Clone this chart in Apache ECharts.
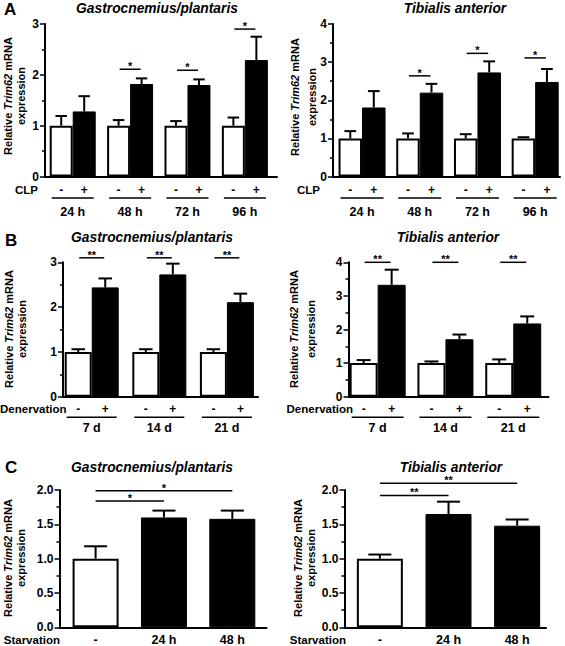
<!DOCTYPE html>
<html><head><meta charset="utf-8">
<script src="https://cdn.jsdelivr.net/npm/echarts@6/dist/echarts.min.js"></script>
<style>html,body{margin:0;padding:0;background:#fff}#c{width:565px;height:646px}</style>
</head><body><div id="c"></div><script>
// ---------- DATA ----------
// Panel A: CLP (sepsis)
const clpTimes = ['24 h', '48 h', '72 h', '96 h'];
const clpLevels = ['-', '+'];
const gpClpCtrl = [1.00, 1.00, 1.00, 1.00];
const gpClpCtrlSem = [0.19, 0.11, 0.09, 0.16];
const gpClpTreat = [1.28, 1.82, 1.80, 2.29];
const gpClpTreatSem = [0.30, 0.11, 0.11, 0.46];
const gpClpSig = ['', '*', '*', '*'];
const gpClpSigY = [null, 2.11, 2.09, 2.90];

const taClpCtrl = [1.00, 1.00, 1.00, 1.00];
const taClpCtrlSem = [0.19, 0.13, 0.11, 0.03];
const taClpTreat = [1.81, 2.20, 2.73, 2.48];
const taClpTreatSem = [0.43, 0.23, 0.29, 0.34];
const taClpSig = ['', '*', '*', '*'];
const taClpSigY = [null, 2.64, 3.23, 3.11];

// Panel B: denervation
const denTimes = ['7 d', '14 d', '21 d'];
const denLevels = ['-', '+'];
const gpDenCtrl = [1.00, 1.00, 1.00];
const gpDenCtrlSem = [0.06, 0.06, 0.06];
const gpDenTreat = [2.44, 2.73, 2.11];
const gpDenTreatSem = [0.20, 0.24, 0.19];
const gpDenSig = ['**', '**', '**'];
const gpDenSigY = [3.10, 3.10, 3.10];

const taDenCtrl = [1.00, 1.00, 1.00];
const taDenCtrlSem = [0.09, 0.05, 0.11];
const taDenTreat = [3.33, 1.71, 2.18];
const taDenTreatSem = [0.45, 0.14, 0.21];
const taDenSig = ['**', '**', '**'];
const taDenSigY = [4.00, 4.00, 4.00];

// Panel C: starvation
const starvGroups = ['-', '24 h', '48 h'];
const starvIsTreated = [false, true, true];
const gpStarv = [1.00, 1.60, 1.58];
const gpStarvSem = [0.18, 0.10, 0.12];
const gpStarvSigFrom = [0, 0];
const gpStarvSigTo = [1, 2];
const gpStarvSigY = [1.84, 1.99];
const gpStarvSigTxt = ['*', '*'];

const taStarv = [1.00, 1.65, 1.48];
const taStarvSem = [0.06, 0.18, 0.09];
const taStarvSigFrom = [0, 0];
const taStarvSigTo = [1, 2];
const taStarvSigY = [1.92, 2.10];
const taStarvSigTxt = ['**', '**'];

const titles = ['Gastrocnemius/plantaris', 'Tibialis anterior'];
const yNameLine1 = 'Relative {i|Trim62} mRNA';
const yNameLine2 = 'expression';

// ---------- STYLE / LAYOUT ----------
const FONT = '"Liberation Sans", Arial, Helvetica, sans-serif';
const boldFont = (s) => 'bold ' + s + 'px ' + FONT;

const layouts = [
  {left: 45,    top: 24,    width: 232,   height: 152.5, xmin: -0.483, xmax: 3.56, ymax: 3, yint: 1,   dec: 0, bw: 23,   nameX: [8.3, 21.3],   nameY: 96,  d: [13.5, 21.5, 35.5]},
  {left: 333,   top: 24,    width: 227,   height: 152.5, xmin: -0.503, xmax: 3.43, ymax: 4, yint: 1,   dec: 0, bw: 23.5, nameX: [294.7, 311.5], nameY: 97,  d: [13.5, 21.5, 35.5]},
  {left: 63,    top: 262.3, width: 195,   height: 134.4, xmin: -0.425, xmax: 2.46, ymax: 3, yint: 1,   dec: 0, bw: 27,   nameX: [8.8, 21.5],   nameY: 329, d: [12.5, 20.5, 31]},
  {left: 348.5, top: 262.3, width: 200,   height: 134.4, xmin: -0.43,  xmax: 2.52, ymax: 4, yint: 1,   dec: 0, bw: 28,   nameX: [294, 311],    nameY: 329, d: [12.5, 20.5, 31]},
  {left: 59.5,  top: 490,   width: 207,   height: 137.3, xmin: -0.528, xmax: 2.5,  ymax: 2, yint: 0.5, dec: 1, bw: 46,   nameX: [8.3, 21.3],   nameY: 558, d: [13]},
  {left: 344.5, top: 490,   width: 201.5, height: 137.3, xmin: -0.515, xmax: 2.42, ymax: 2, yint: 0.5, dec: 1, bw: 46,   nameX: [297.5, 311],  nameY: 558, d: [13]}
];

const pairedPanels = [
  {groups: clpTimes, levels: clpLevels, ctrl: gpClpCtrl, ctrlSem: gpClpCtrlSem, treat: gpClpTreat, treatSem: gpClpTreatSem, sig: gpClpSig, sigY: gpClpSigY},
  {groups: clpTimes, levels: clpLevels, ctrl: taClpCtrl, ctrlSem: taClpCtrlSem, treat: taClpTreat, treatSem: taClpTreatSem, sig: taClpSig, sigY: taClpSigY},
  {groups: denTimes, levels: denLevels, ctrl: gpDenCtrl, ctrlSem: gpDenCtrlSem, treat: gpDenTreat, treatSem: gpDenTreatSem, sig: gpDenSig, sigY: gpDenSigY},
  {groups: denTimes, levels: denLevels, ctrl: taDenCtrl, ctrlSem: taDenCtrlSem, treat: taDenTreat, treatSem: taDenTreatSem, sig: taDenSig, sigY: taDenSigY}
];
const singlePanels = [
  {groups: starvGroups, treated: starvIsTreated, vals: gpStarv, sem: gpStarvSem, sigFrom: gpStarvSigFrom, sigTo: gpStarvSigTo, sigY: gpStarvSigY, sigTxt: gpStarvSigTxt},
  {groups: starvGroups, treated: starvIsTreated, vals: taStarv, sem: taStarvSem, sigFrom: taStarvSigFrom, sigTo: taStarvSigTo, sigY: taStarvSigY, sigTxt: taStarvSigTxt}
];

// ---------- BUILD ----------
const grids = [], xAxes = [], yAxes = [], series = [];

function textEl(txt, x, y, align, font) {
  return {type: 'text', style: {text: txt, x: x, y: y, font: font, fill: '#000',
    textAlign: align, textVerticalAlign: 'middle', align: align, verticalAlign: 'middle'}};
}
function lineEl(x1, y1, x2, y2, w) {
  return {type: 'line', shape: {x1: x1, y1: y1, x2: x2, y2: y2}, style: {stroke: '#000', lineWidth: w}};
}

layouts.forEach((L, gi) => {
  grids.push({left: L.left, top: L.top, width: L.width, height: L.height, containLabel: false, outerBoundsMode: 'none'});
  xAxes.push({type: 'value', gridIndex: gi, min: L.xmin, max: L.xmax,
    axisLine: {show: true, onZero: false, lineStyle: {color: '#000', width: 2}},
    axisTick: {show: false}, axisLabel: {show: false}, splitLine: {show: false}});
  yAxes.push({type: 'value', gridIndex: gi, min: 0, max: L.ymax, interval: L.yint,
    axisLine: {show: true, onZero: false, lineStyle: {color: '#000', width: 2}},
    axisTick: {show: true, length: 5, lineStyle: {color: '#000', width: 1.5}},
    minorTick: {show: true, splitNumber: 2, length: 3, lineStyle: {color: '#000', width: 1.5}},
    splitLine: {show: false}, minorSplitLine: {show: false},
    axisLabel: {color: '#000', fontFamily: FONT, fontWeight: 'bold', fontSize: 12, margin: 6,
      formatter: (v) => v.toFixed(L.dec)}
  });
});

function errSeries(gi, bw, sign, means, sems) {
  return {type: 'custom', xAxisIndex: gi, yAxisIndex: gi, silent: true, z: 5, clip: false,
    encode: {x: 0, y: 1},
    data: means.map((m, i) => [i, m, sems[i]]),
    renderItem: function (params, api) {
      const x = api.value(0), m = api.value(1), s = api.value(2);
      const base = api.coord([x, m]);
      const top = api.coord([x, m + s]);
      const cx = base[0] + sign * bw / 2;
      const cap = bw / 4;
      return {type: 'group', children: [
        lineEl(cx, base[1], cx, top[1], 2),
        lineEl(cx - cap, top[1], cx + cap, top[1], 2)
      ]};
    }};
}

pairedPanels.forEach((P, k) => {
  const gi = k, L = layouts[gi], bw = L.bw;
  series.push({type: 'bar', xAxisIndex: gi, yAxisIndex: gi, barWidth: bw, barGap: '0%', silent: true,
    itemStyle: {color: '#fff', borderColor: '#000', borderWidth: 2},
    data: P.ctrl.map((v, i) => [i, v])});
  series.push({type: 'bar', xAxisIndex: gi, yAxisIndex: gi, barWidth: bw, barGap: '0%', silent: true,
    itemStyle: {color: '#000', borderColor: '#000', borderWidth: 1},
    data: P.treat.map((v, i) => [i, v])});
  series.push(errSeries(gi, bw, -1, P.ctrl, P.ctrlSem));
  series.push(errSeries(gi, bw, 1, P.treat, P.treatSem));
  // significance bars
  series.push({type: 'custom', xAxisIndex: gi, yAxisIndex: gi, silent: true, z: 6, clip: false,
    encode: {x: 0, y: 1},
    data: P.sigY.map((y, i) => [i, y == null ? 0 : y]),
    renderItem: function (params, api) {
      const i = params.dataIndex;
      if (!P.sig[i]) return null;
      const p = api.coord([api.value(0), api.value(1)]);
      return {type: 'group', children: [
        lineEl(p[0] - bw / 2 + 1, p[1], p[0] + bw / 2 - 1, p[1], 1.5),
        textEl(P.sig[i], p[0], p[1] - 3, 'center', boldFont(11))
      ]};
    }});
  // x-axis group labels
  series.push({type: 'custom', xAxisIndex: gi, yAxisIndex: gi, silent: true, z: 6, clip: false,
    encode: {x: 0, y: 1},
    data: P.groups.map((g, i) => [i, 0]),
    renderItem: function (params, api) {
      const i = params.dataIndex;
      const p = api.coord([api.value(0), 0]);
      const d = L.d;
      return {type: 'group', children: [
        textEl(P.levels[0], p[0] - bw / 2, p[1] + d[0], 'center', boldFont(12)),
        textEl(P.levels[1], p[0] + bw / 2, p[1] + d[0], 'center', boldFont(12)),
        lineEl(p[0] - bw + 2, p[1] + d[1], p[0] + bw - 2, p[1] + d[1], 1.5),
        textEl(P.groups[i], p[0], p[1] + d[2], 'center', boldFont(12.5))
      ]};
    }});
});

singlePanels.forEach((S, k) => {
  const gi = 4 + k, L = layouts[gi], bw = L.bw;
  series.push({type: 'bar', xAxisIndex: gi, yAxisIndex: gi, barWidth: bw, silent: true,
    data: S.vals.map((v, i) => ({value: [i, v], itemStyle: S.treated[i]
      ? {color: '#000', borderColor: '#000', borderWidth: 1}
      : {color: '#fff', borderColor: '#000', borderWidth: 2}}))});
  series.push(errSeries(gi, bw, 0, S.vals, S.sem));
  series.push({type: 'custom', xAxisIndex: gi, yAxisIndex: gi, silent: true, z: 6, clip: false,
    encode: {x: 0, y: 2},
    data: S.sigY.map((y, j) => [S.sigFrom[j], S.sigTo[j], y]),
    renderItem: function (params, api) {
      const j = params.dataIndex;
      const a = api.coord([api.value(0), api.value(2)]);
      const b = api.coord([api.value(1), api.value(2)]);
      return {type: 'group', children: [
        lineEl(a[0], a[1], b[0], b[1], 1.5),
        textEl(S.sigTxt[j], (a[0] + b[0]) / 2, a[1] - 3, 'center', boldFont(11))
      ]};
    }});
  series.push({type: 'custom', xAxisIndex: gi, yAxisIndex: gi, silent: true, z: 6, clip: false,
    encode: {x: 0, y: 1},
    data: S.groups.map((g, i) => [i, 0]),
    renderItem: function (params, api) {
      const i = params.dataIndex;
      const p = api.coord([api.value(0), 0]);
      return textEl(S.groups[i], p[0], p[1] + L.d[0], 'center', boldFont(12.5));
    }});
});

// titles, panel letters, row labels, y-axis titles
const graphic = [];
function gText(txt, x, y, align, font) {
  graphic.push({type: 'text', x: x, y: y, silent: true,
    style: {text: txt, font: font, fill: '#000', textAlign: align, textVerticalAlign: 'middle', align: align, verticalAlign: 'middle'}});
}
const titleFont = 'italic bold 13.8px ' + FONT;
gText('A', 4, 9, 'left', boldFont(17));
gText('B', 5, 240, 'left', boldFont(17));
gText('C', 5, 467, 'left', boldFont(17));
gText(titles[0], 157, 8, 'center', titleFont);
gText(titles[1], 455, 8, 'center', titleFont);
gText(titles[0], 152, 237, 'center', titleFont);
gText(titles[1], 448, 237, 'center', titleFont);
gText(titles[0], 152, 467, 'center', titleFont);
gText(titles[1], 451, 467, 'center', titleFont);
gText('CLP', 38, 190, 'right', boldFont(11.5));
gText('CLP', 320, 190, 'right', boldFont(11.5));
gText('Denervation', 66.5, 409, 'right', boldFont(11.5));
gText('Denervation', 353, 409, 'right', boldFont(11.5));
gText('Starvation', 60, 640, 'right', boldFont(11.5));
gText('Starvation', 346, 640, 'right', boldFont(11.5));
const richI = {i: {fontStyle: 'italic', fontWeight: 'bold', fontSize: 11, fontFamily: FONT, fill: '#000', color: '#000'}};
layouts.forEach((L) => {
  [yNameLine1, yNameLine2].forEach((t, li) => {
    graphic.push({type: 'text', x: L.nameX[li], y: L.nameY, rotation: Math.PI / 2, silent: true,
      style: {text: t, font: boldFont(11), fill: '#000',
        textAlign: 'center', textVerticalAlign: 'middle', align: 'center', verticalAlign: 'middle',
        rich: richI}});
  });
});

const chart = echarts.init(document.getElementById('c'), null, {renderer: 'svg'});
chart.setOption({
  animation: false,
  backgroundColor: '#fff',
  grid: grids, xAxis: xAxes, yAxis: yAxes, series: series, graphic: graphic
});
</script></body></html>
